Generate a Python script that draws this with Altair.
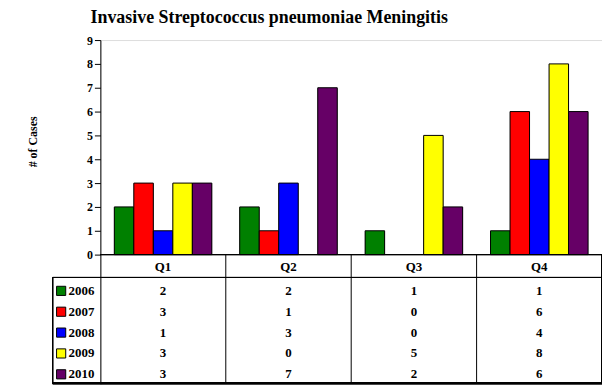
import altair as alt
import pandas as pd

quarters = ["Q1", "Q2", "Q3", "Q4"]
years = ["2006", "2007", "2008", "2009", "2010"]
colors = ["#008000", "#FF0000", "#0000FF", "#FFFF00", "#660066"]
cases = {
    "2006": [2, 2, 1, 1],
    "2007": [3, 1, 0, 6],
    "2008": [1, 3, 0, 4],
    "2009": [3, 0, 5, 8],
    "2010": [3, 7, 2, 6],
}
title_text = "Invasive Streptococcus pneumoniae Meningitis"
y_title = "# of Cases"
y_ticks = list(range(0, 10))

rows = []
for y in years:
    for q, v in zip(quarters, cases[y]):
        rows.append({"quarter": q, "year": y, "cases": v})
df = pd.DataFrame(rows)
qdf = pd.DataFrame({"quarter": quarters})
ydf = pd.DataFrame({"year": years})
tdf = pd.DataFrame({"t": [title_text]})

FONT = "Liberation Serif, Times New Roman, serif"
W, H = 505, 346
y_dom = [-(H - 216) / 24.0, 9]

xscale = alt.Scale(domain=quarters, paddingInner=0, paddingOuter=0)
xoff = alt.Scale(domain=years, paddingInner=0, paddingOuter=0.714)
cscale = alt.Scale(domain=years, range=colors)
yq = alt.Scale(domain=y_dom, nice=False, zero=False)
yrow = alt.Scale(domain=years, range=[242, 347], paddingInner=0, paddingOuter=0)

base = alt.Chart(df)

shadow = base.transform_filter("datum.cases > 0").mark_bar(
    color="black", xOffset=2, yOffset=1, y2Offset=0
).encode(
    x=alt.X("quarter:N", scale=xscale, axis=None),
    xOffset=alt.XOffset("year:N", scale=xoff),
    y=alt.Y("cases:Q", scale=yq, stack=None, axis=None),
    y2=alt.datum(0),
)

bars = base.transform_filter("datum.cases > 0").mark_bar(
    stroke="black", strokeWidth=1
).encode(
    x=alt.X("quarter:N", scale=xscale, axis=None),
    xOffset=alt.XOffset("year:N", scale=xoff),
    y=alt.Y(
        "cases:Q", scale=yq, stack=None,
        axis=alt.Axis(
            values=y_ticks, grid=False, title=y_title, titleFont=FONT,
            titleFontSize=12, titleFontWeight="bold", titleColor="black",
            titleAngle=-90, titleX=-68, titleY=102, titleAlign="center",
            titleBaseline="middle",
            labelFont=FONT, labelFontSize=12, labelFontWeight="bold",
            labelColor="black", labelPadding=2, tickSize=6, tickColor="black",
            domainColor="black", tickWidth=1, domainWidth=1,
        ),
    ),
    y2=alt.datum(0),
    color=alt.Color("year:N", scale=cscale, legend=None),
)

line_kw = dict(color="black", strokeWidth=1)
h_zero = alt.Chart(qdf).mark_rule(**line_kw).encode(
    x=alt.value(0), x2=alt.value(W), y=alt.value(216)
)
h_head = alt.Chart(qdf).mark_rule(**line_kw).encode(
    x=alt.value(-48), x2=alt.value(W), y=alt.value(239)
)
h_bot = alt.Chart(qdf).mark_rule(color="black", strokeWidth=2).encode(
    x=alt.value(-48), x2=alt.value(W), y=alt.value(H - 0.5)
)
v_left = alt.Chart(qdf).mark_rule(**line_kw).encode(
    x=alt.value(-48), y=alt.value(239), y2=alt.value(H)
)
v_right = alt.Chart(qdf).mark_rule(**line_kw).encode(
    x=alt.value(W - 0.5), y=alt.value(216), y2=alt.value(H)
)
v_cols = alt.Chart(qdf).transform_filter("datum.quarter != 'Q1'").mark_rule(**line_kw).encode(
    x=alt.X("quarter:N", scale=xscale, axis=None, bandPosition=0),
    y=alt.value(216), y2=alt.value(H),
)

txt_kw = dict(font=FONT, fontSize=13, fontWeight="bold", color="black")
head = alt.Chart(qdf).mark_text(baseline="middle", **txt_kw).encode(
    x=alt.X("quarter:N", scale=xscale, axis=None),
    y=alt.value(228),
    text="quarter:N",
)
vals = base.mark_text(baseline="middle", **txt_kw).encode(
    x=alt.X("quarter:N", scale=xscale, axis=None),
    y=alt.Y("year:N", scale=yrow, axis=None),
    text="cases:Q",
)
leg_sq = alt.Chart(ydf).mark_square(size=85, opacity=1, stroke="black", strokeWidth=1).encode(
    x=alt.value(-39.5),
    y=alt.Y("year:N", scale=yrow, axis=None),
    color=alt.Color("year:N", scale=cscale, legend=None),
)
leg_txt = alt.Chart(ydf).mark_text(align="left", baseline="middle", **txt_kw).encode(
    x=alt.value(-32),
    y=alt.Y("year:N", scale=yrow, axis=None),
    text="year:N",
)
title = alt.Chart(tdf).mark_text(
    align="center", baseline="alphabetic", font=FONT, fontSize=18,
    fontWeight="bold", color="black"
).encode(x=alt.value(170), y=alt.value(-17), text="t:N")

chart = alt.layer(
    shadow, bars, h_zero, h_head, h_bot, v_left, v_right, v_cols,
    head, vals, leg_sq, leg_txt, title,
).resolve_scale(y="independent").properties(
    width=W, height=H,
    autosize=alt.AutoSizeParams(type="none"),
    padding={"left": 93, "top": 31, "right": 0, "bottom": 1},
).configure_view(stroke=None).configure(background="white")

chart.save("out.html", embed_options={"renderer": "svg", "actions": False})
